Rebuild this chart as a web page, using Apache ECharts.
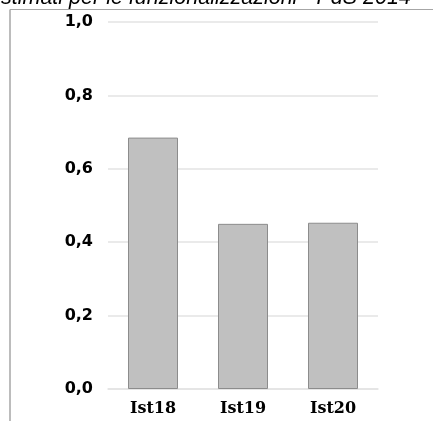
<!DOCTYPE html>
<html>
<head>
<meta charset="utf-8">
<script src="https://cdn.jsdelivr.net/npm/echarts@6/dist/echarts.min.js"></script>
<style>
  html, body { margin: 0; padding: 0; background: #fff; }
  #chart { width: 433px; height: 421px; }
</style>
</head>
<body>
<div id="chart"></div>
<script>
// Category names and measured values
const categories = ['Ist18', 'Ist19', 'Ist20'];
const values = [0.685, 0.450, 0.453];
// Value axis range
const yMin = 0;
const yMax = 1;
const yStep = 0.2;
const titleText = 'stimati per le funzionalizzazioni - PdS 2014';

const chart = echarts.init(document.getElementById('chart'), null, { renderer: 'canvas' });

chart.setOption({
  animation: false,
  backgroundColor: '#ffffff',
  grid: { left: 108, right: 55, top: 22, bottom: 32, containLabel: false },
  graphic: [
    {
      type: 'text',
      x: 1,
      y: 9,
      style: {
        text: titleText,
        font: 'italic 21.5px "Liberation Sans", Arial, sans-serif',
        fill: '#000',
        verticalAlign: 'bottom'
      }
    },
    {
      type: 'line',
      shape: { x1: 10, y1: 9.5, x2: 433, y2: 9.5 },
      style: { stroke: '#a6a6a6', lineWidth: 1.2 }
    },
    {
      type: 'line',
      shape: { x1: 10, y1: 9.5, x2: 10, y2: 421 },
      style: { stroke: '#a6a6a6', lineWidth: 1.5 }
    }
  ],
  xAxis: {
    type: 'category',
    data: categories,
    axisLine: { show: true, lineStyle: { color: '#e3e3e3', width: 1.5 } },
    axisTick: { show: false },
    axisLabel: {
      margin: 12,
      color: '#000',
      fontFamily: '"DejaVu Serif", serif',
      fontWeight: 'bold',
      fontSize: 16
    }
  },
  yAxis: {
    type: 'value',
    min: yMin,
    max: yMax,
    interval: yStep,
    axisLine: { show: false },
    axisTick: { show: false },
    splitLine: { lineStyle: { color: '#e3e3e3', width: 1.5 } },
    axisLabel: {
      margin: 15,
      color: '#000',
      fontFamily: '"DejaVu Sans", sans-serif',
      fontWeight: 'bold',
      fontSize: 16,
      formatter: v => v.toFixed(1).replace('.', ',')
    }
  },
  series: [{
    type: 'bar',
    data: values,
    barWidth: 50,
    itemStyle: { color: '#c0c0c0', borderColor: '#8c8c8c', borderWidth: 1 }
  }]
});
</script>
</body>
</html>
